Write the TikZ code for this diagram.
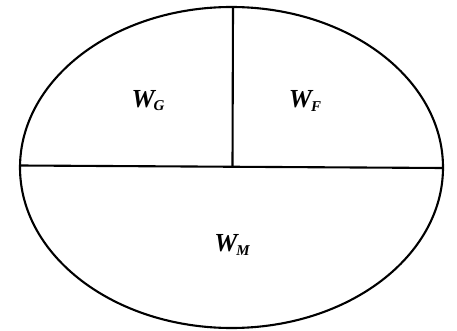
\documentclass[tikz,border=0pt]{standalone}
\usepackage{fontspec}
\setmainfont{Liberation Serif}
\begin{document}
\begin{tikzpicture}[x=1pt,y=-1pt,
  outline/.style={line width=2.1pt},
  lbl/.style={font=\fontsize{26}{28}\selectfont\bfseries\itshape, inner sep=0pt}]
\useasboundingbox (0,0) rectangle (457,331);
\newcommand{\wsub}[1]{W\kern-1pt\raisebox{-0.12em}{\fontsize{15}{16}\selectfont #1}}
\draw[outline] (231.5,167.5) ellipse [x radius=211.5, y radius=160.5];
\coordinate (L) at (20,165.5);
\coordinate (R) at (443,168);
\coordinate (T) at (233,7);
\coordinate (M) at (232.5,166.5);
\draw[outline] (L) -- (R);
\draw[outline] (T) -- (M);
\node[lbl] (wg) at (148,101) {\wsub{G}};
\node[lbl] (wf) at (305,101) {\wsub{F}};
\node[lbl] (wm) at (232,245) {\wsub{M}};
\end{tikzpicture}
\end{document}
